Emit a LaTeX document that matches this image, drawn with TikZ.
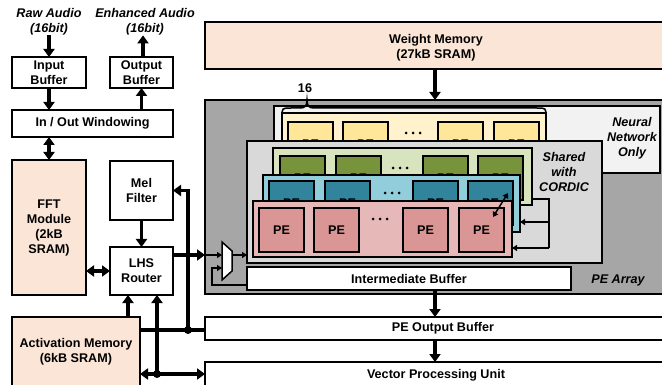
\documentclass[tikz,border=0pt]{standalone}
\usepackage{fontspec}
\setmainfont{Liberation Sans}
\usetikzlibrary{arrows.meta}
\definecolor{peach}{HTML}{FBE5D6}
\definecolor{arraygray}{HTML}{A6A6A6}
\definecolor{nnpanel}{HTML}{F2F2F2}
\definecolor{sharedpanel}{HTML}{D9D9D9}
\definecolor{ylayer}{HTML}{FFF2CC}
\definecolor{ype}{HTML}{FFE699}
\definecolor{glayer}{HTML}{D7E4BD}
\definecolor{gpe}{HTML}{77933C}
\definecolor{blayer}{HTML}{92CDDC}
\definecolor{bpe}{HTML}{31849B}
\definecolor{player}{HTML}{E6B9B8}
\definecolor{ppe}{HTML}{DA9694}
\begin{document}
\begin{tikzpicture}[x=1pt,y=-1pt,
  every node/.style={font=\fontsize{12.6}{15}\selectfont\bfseries, inner sep=0pt, outer sep=0pt, align=center},
  box/.style={draw, line width=2pt, fill=white},
  mem/.style={box, fill=peach},
  layerbox/.style={draw, line width=2pt, anchor=north west},
  pebox/.style={draw, line width=2pt, anchor=north west, minimum width=45pt, minimum height=44pt},
  lbl/.style={font=\fontsize{12.6}{15}\selectfont\bfseries\itshape},
  bigarrow/.style={line width=3.2pt, -{Triangle[width=11pt,length=8pt]}},
  bigdbl/.style={line width=3.2pt, {Triangle[width=11pt,length=8pt]}-{Triangle[width=11pt,length=8pt]}},
  thinarrow/.style={line width=1.5pt, -{Triangle[width=6pt,length=5pt]}},
  thindbl/.style={line width=1.5pt, {Triangle[width=6pt,length=5pt]}-{Triangle[width=6pt,length=5pt]}},
  wire/.style={line width=3.2pt},
  thinwire/.style={line width=1.5pt}
]
\useasboundingbox (0,0) rectangle (662,385);
\clip (0,0) rectangle (662,385);
\fill[white] (0,0) rectangle (662,385);

% ---------- left column ----------
\node[lbl] (rawlbl) at (49,22) {Raw Audio\\(16bit)};
\node[lbl] (enhlbl) at (145,22) {Enhanced Audio\\(16bit)};
\node[box, minimum width=74pt, minimum height=31pt] (inbuf) at (49,72.5) {Input\\Buffer};
\node[box, minimum width=63pt, minimum height=31pt] (outbuf) at (141.5,72.5) {Output\\Buffer};
\node[box, minimum width=161pt, minimum height=27pt] (win) at (92.5,123.5) {In / Out Windowing};
\node[mem, minimum width=74pt, minimum height=135pt] (fft) at (49,227.5) {FFT\\Module\\(2kB\\SRAM)};
\node[box, minimum width=63pt, minimum height=59pt] (mel) at (141.5,190.5) {Mel\\Filter};
\node[box, minimum width=63pt, minimum height=48pt] (lhs) at (141.5,271) {LHS\\Router};
\node[mem, anchor=north west, minimum width=128pt, minimum height=83pt] (act) at (12,317) {};
\node (acttxt) at (76,352) {Activation Memory\\(6kB SRAM)};

% ---------- right column ----------
\node[mem, anchor=north west, minimum width=460pt, minimum height=47pt] (wm) at (205,22) {};
\node (wmtxt) at (436,47.5) {Weight Memory\\(27kB SRAM)};
\node[box, anchor=north west, minimum width=470pt, minimum height=194pt, fill=arraygray] (array) at (205,100) {};
\node[box, anchor=north west, minimum width=460pt, minimum height=23pt] (pebuf) at (205,317) {};
\node (pebuftxt) at (443,328.5) {PE Output Buffer};
\node[box, anchor=north west, minimum width=460pt, minimum height=40pt] (vpu) at (205,362) {};
\node (vputxt) at (436,375) {Vector Processing Unit};

% ---------- PE array ----------
\node[layerbox, fill=nnpanel, minimum width=386pt, minimum height=67pt] (nn) at (274,106) {};
\node[lbl] (nntxt) at (632,138.5) {Neural\\Network\\Only};

% neural-network-only layer
\node[layerbox, fill=ylayer, minimum width=264pt, minimum height=62pt] (ylay) at (282,113) {};
\foreach \px [count=\i] in {288,343,438,494}
  \node[pebox, fill=ype] (y\i) at (\px,122) {PE};
\foreach \dx in {-7,0,7} \fill (413+\dx,133) circle (1.5);
\draw[line width=1.5pt] (282,117) .. controls (282,108) .. (291,108) -- (300,108)
  .. controls (305,108) and (307,106) .. (307,100)
  .. controls (307,106) and (309,108) .. (314,108) -- (537,108)
  .. controls (546,108) .. (546,117);
\node (cnt) at (305,88) {16};

\node[layerbox, fill=sharedpanel, minimum width=355pt, minimum height=122pt] (shared) at (247,141) {};
\node[lbl] (sharedtxt) at (564,172) {Shared\\with\\CORDIC};

% green layer
\node[layerbox, fill=glayer, minimum width=259pt, minimum height=57pt] (glay) at (273,148) {};
\foreach \px [count=\i] in {280,336,423,478}
  \node[pebox, fill=gpe] (g\i) at (\px,156) {PE};
\foreach \dx in {-7,0,7} \fill (400+\dx,168) circle (1.5);

% blue layer
\node[layerbox, fill=blayer, minimum width=257pt, minimum height=57pt] (blay) at (263,175) {};
\foreach \px [count=\i] in {269,325,413,468}
  \node[pebox, fill=bpe] (b\i) at (\px,181) {PE};
\foreach \dx in {-7,0,7} \fill (392+\dx,193) circle (1.5);

% pink layer
\node[layerbox, fill=player, minimum width=259pt, minimum height=56pt] (play) at (253,201) {};
\foreach \px [count=\i] in {259,314,403,459}
  \node[pebox, fill=ppe] (p\i) at (\px,208) {PE};
\foreach \dx in {-7,0,7} \fill (380+\dx,219) circle (1.5);

% link between stacked PEs
\coordinate (lk1) at (493,217);
\coordinate (lk2) at (508,193);
\draw[thindbl] (lk1) -- (lk2);

% feedback into the lower layers
\coordinate (fbtop) at (549,199);
\coordinate (fbmid) at (549,222);
\coordinate (fbbot) at (549,248);
\draw[thinwire] (glay.east |- fbtop) -- (fbtop) -- (fbbot);
\draw[thinarrow] (fbmid) -- (blay.east |- fbmid);
\draw[thinarrow] (fbbot) -- (play.east |- fbbot);

\node[box, anchor=north west, minimum width=324pt, minimum height=23pt] (ibuf) at (247,267) {};
\node (ibuftxt) at (409,278.5) {Intermediate Buffer};
\node[lbl] (arraytxt) at (618,280) {PE Array};

% input multiplexer
\coordinate (muxin1) at (222,255);
\coordinate (muxin2) at (222,268);
\coordinate (muxout) at (232,255);
\draw[line width=1.5pt, fill=white] (222,242) -- (232,251) -- (232,271) -- (222,280) -- cycle;
\draw[thinarrow] (array.west |- muxin1) -- (muxin1);
\draw[thinarrow] (muxout) -- (shared.west |- muxout);
\coordinate (loopstart) at (247,285);
\coordinate (loopcorner) at (212,285);
\draw[thinarrow] (loopstart) -- (loopcorner) |- (muxin2);

% ---------- connectors ----------
\draw[bigarrow] (rawlbl.south) -- (rawlbl.south |- inbuf.north);
\draw[bigarrow] (outbuf.north -| 143,0) -- (enhlbl.south -| 143,0);
\draw[bigarrow] (inbuf.south) -- (inbuf.south |- win.north);
\draw[bigarrow] (outbuf.south |- win.north) -- (outbuf.south);
\draw[bigdbl] (fft.north |- win.south) -- (fft.north);
\draw[bigarrow] (mel.south) -- (lhs.north);
\draw[bigdbl] (fft.east |- lhs.center) -- (lhs.west);

\coordinate (actup) at (128,317);
\draw[bigarrow] (actup) -- (actup |- lhs.south);

\coordinate (j1) at (157,374);
\draw[bigdbl] (act.east |- j1) -- (vpu.west |- j1);
\draw[bigarrow] (j1) -- (j1 |- lhs.south);
\fill (j1) circle (4);

\coordinate (j2) at (188,330);
\draw[wire] (act.east |- j2) -- (pebuf.west |- j2);
\draw[bigarrow] (j2) |- (mel.east);
\fill (j2) circle (4);

\draw[bigarrow] (lhs.east |- muxin1) -- (array.west |- muxin1);

\coordinate (wmdrop) at (435,69);
\draw[bigarrow] (wmdrop) -- (wmdrop |- array.north);
\draw[bigarrow] (ibuf.south -| wmdrop) -- (pebuf.north -| wmdrop);
\draw[bigarrow] (pebuf.south -| wmdrop) -- (vpu.north -| wmdrop);
\end{tikzpicture}
\end{document}
